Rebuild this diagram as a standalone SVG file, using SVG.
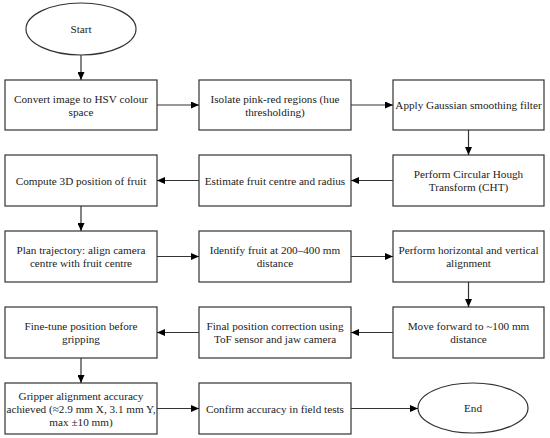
<svg xmlns="http://www.w3.org/2000/svg" width="550" height="438" viewBox="0 0 550 438">
<defs>
<marker id="ah" markerWidth="8" markerHeight="7" refX="8" refY="3.5" orient="auto" markerUnits="userSpaceOnUse">
<path d="M0,0 L8,3.5 L0,7 Z" fill="#000"/>
</marker>
<style>
.n{fill:#fff;stroke:#333;stroke-width:1.2}
.t{font-family:"Liberation Serif",serif;font-size:11.2px;fill:#222;text-anchor:middle}
.c{stroke:#333;stroke-width:1.2;fill:none;marker-end:url(#ah)}
</style>
</defs>
<rect width="550" height="438" fill="#fff"/>
<g id="start"><ellipse class="n" cx="81" cy="29" rx="55" ry="26"/><text class="t" x="81" y="33">Start</text></g>
<g id="n1"><rect class="n" x="5" y="80" width="152" height="50"/><text class="t" x="81" y="103">Convert image to HSV colour</text><text class="t" x="81" y="116">space</text></g>
<g id="n2"><rect class="n" x="199" y="80" width="152" height="50"/><text class="t" x="275" y="103">Isolate pink-red regions (hue</text><text class="t" x="275" y="116">thresholding)</text></g>
<g id="n3"><rect class="n" x="393" y="80" width="151" height="50"/><text class="t" x="468.5" y="109">Apply Gaussian smoothing filter</text></g>
<g id="n4"><rect class="n" x="393" y="155" width="151" height="51"/><text class="t" x="468.5" y="178">Perform Circular Hough</text><text class="t" x="468.5" y="191">Transform (CHT)</text></g>
<g id="n5"><rect class="n" x="199" y="155" width="152" height="51"/><text class="t" x="275" y="185">Estimate fruit centre and radius</text></g>
<g id="n6"><rect class="n" x="5" y="155" width="152" height="51"/><text class="t" x="81" y="185">Compute 3D position of fruit</text></g>
<g id="n7"><rect class="n" x="5" y="231" width="152" height="51"/><text class="t" x="81" y="254">Plan trajectory: align camera</text><text class="t" x="81" y="267">centre with fruit centre</text></g>
<g id="n8"><rect class="n" x="199" y="231" width="152" height="51"/><text class="t" x="275" y="254">Identify fruit at 200–400 mm</text><text class="t" x="275" y="267">distance</text></g>
<g id="n9"><rect class="n" x="393" y="231" width="151" height="51"/><text class="t" x="468.5" y="254">Perform horizontal and vertical</text><text class="t" x="468.5" y="267">alignment</text></g>
<g id="n10"><rect class="n" x="393" y="307" width="151" height="51"/><text class="t" x="468.5" y="330">Move forward to ~100 mm</text><text class="t" x="468.5" y="343">distance</text></g>
<g id="n11"><rect class="n" x="199" y="307" width="152" height="51"/><text class="t" x="275" y="330">Final position correction using</text><text class="t" x="275" y="343">ToF sensor and jaw camera</text></g>
<g id="n12"><rect class="n" x="5" y="307" width="152" height="51"/><text class="t" x="81" y="330">Fine-tune position before</text><text class="t" x="81" y="343">gripping</text></g>
<g id="n13"><rect class="n" x="5" y="383" width="152" height="51"/><text class="t" x="81" y="400">Gripper alignment accuracy</text><text class="t" x="81" y="413">achieved (≈2.9 mm X, 3.1 mm Y,</text><text class="t" x="81" y="426">max ±10 mm)</text></g>
<g id="n14"><rect class="n" x="199" y="383" width="152" height="51"/><text class="t" x="275" y="413">Confirm accuracy in field tests</text></g>
<g id="end"><ellipse class="n" cx="473" cy="408" rx="55" ry="25"/><text class="t" x="473" y="412">End</text></g>
<g id="connectors">
<line class="c" x1="81" y1="55" x2="81" y2="80"/>
<line class="c" x1="157" y1="105" x2="199" y2="105"/>
<line class="c" x1="351" y1="105" x2="393" y2="105"/>
<line class="c" x1="468.5" y1="130" x2="468.5" y2="155"/>
<line class="c" x1="393" y1="180.5" x2="351" y2="180.5"/>
<line class="c" x1="199" y1="180.5" x2="157" y2="180.5"/>
<line class="c" x1="81" y1="206" x2="81" y2="231"/>
<line class="c" x1="157" y1="256.5" x2="199" y2="256.5"/>
<line class="c" x1="351" y1="256.5" x2="393" y2="256.5"/>
<line class="c" x1="468.5" y1="282" x2="468.5" y2="307"/>
<line class="c" x1="393" y1="332.5" x2="351" y2="332.5"/>
<line class="c" x1="199" y1="332.5" x2="157" y2="332.5"/>
<line class="c" x1="81" y1="358" x2="81" y2="383"/>
<line class="c" x1="157" y1="408.5" x2="199" y2="408.5"/>
<line class="c" x1="351" y1="408.5" x2="418" y2="408.5"/>
</g>
</svg>
